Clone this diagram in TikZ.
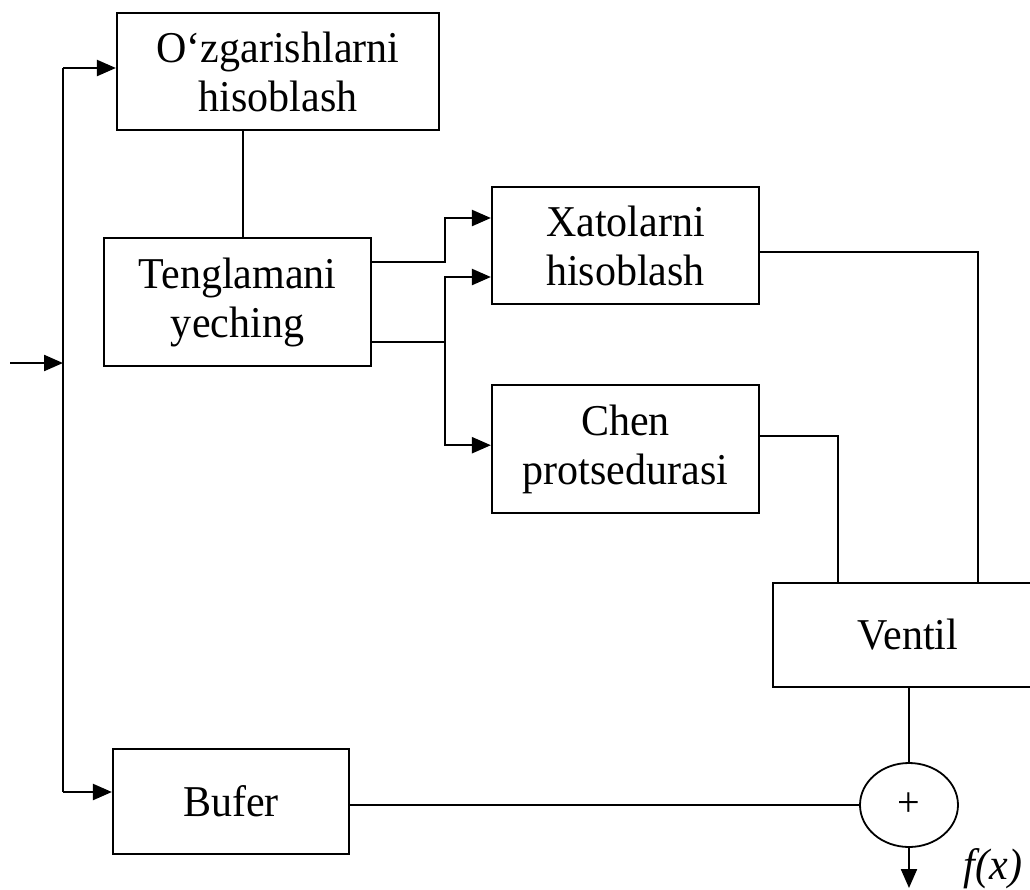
\documentclass[tikz,border=0pt]{standalone}
\usepackage{fontspec}
\setmainfont{Liberation Serif}[FakeStretch=0.955]
\usetikzlibrary{arrows.meta,positioning,shapes.geometric}
\tikzset{
  >={Triangle[length=9.5pt,width=8pt]},
  box/.style={draw,line width=1.1pt,inner sep=2pt,align=center,font=\fontsize{22}{24.5}\selectfont},
  sumnode/.style={draw,ellipse,line width=0.9pt,inner sep=0pt,minimum width=49pt,minimum height=42pt,font=\fontsize{21}{24.5}\selectfont},
  lab/.style={font=\fontsize{22}{24.5}\selectfont\itshape},
  arr/.style={->,line width=1.15pt},
  ln/.style={line width=0.85pt},
}
\begin{document}
\begin{tikzpicture}[x=0.5pt,y=-0.5pt]
\useasboundingbox (0,0) rectangle (1030,890);
\node[box,minimum width=161pt,minimum height=58.5pt] (ozg) at (278,71.5) {O‘zgarishlarni\\hisoblash};
\node[box,minimum width=133.5pt,minimum height=64pt] (teng) at (237.5,302) {Tenglamani\\yeching};
\node[box,minimum width=133.5pt,minimum height=58.5pt] (xato) at (625.5,245.5) {Xatolarni\\hisoblash};
\node[box,below=39.5pt of xato,minimum width=133.5pt,minimum height=64pt] (chen) {Chen\\protsedurasi};
\node[box,minimum width=135pt,minimum height=52pt] (ventil) at (908,635) {Ventil};
\node[box,minimum width=118pt,minimum height=52.5pt] (bufer) at (231,801.5) {Bufer};
\node[sumnode] (sum) at (909,805) {+};
\node[lab,anchor=base] (fx) at (993,879) {f(x)};
% input bus
\coordinate (in) at (10,363);
\coordinate (bt) at (63,68);
\coordinate (bb) at (63,792);
\coordinate (ot) at (243,130);
\coordinate (vl) at (838,583);
\coordinate (vr) at (978,583);
\coordinate (out) at (909,888);
\draw[arr] (in) -- (in -| bt);
\draw[ln] (bt) -- (bb);
\draw[arr] (bt) -- (bt -| ozg.west);
\draw[arr] (bb) -- (bb -| bufer.west);
\draw[ln] (ozg.south -| ot) -- (teng.north -| ot);
% outputs of teng
\draw[arr] ([yshift=20pt]teng.east) -- ++(73,0) |- ([yshift=13.75pt]xato.west);
\draw[arr] ([yshift=-20pt]teng.east) -- ++(73,0) coordinate (jn) |- ([yshift=-15.75pt]xato.west);
\draw[arr] (jn) |- ([yshift=2pt]chen.west);
% into ventil
\draw[ln] ([yshift=-3.25pt]xato.east) -| (ventil.north -| vr);
\draw[ln] ([yshift=6.5pt]chen.east) -| (ventil.north -| vl);
\draw[ln] (sum.north |- ventil.south) -- (sum.north);
\draw[ln] (bufer.east |- sum) -- (sum.west);
\draw[arr] (sum.south) -- (out);
\end{tikzpicture}
\end{document}
